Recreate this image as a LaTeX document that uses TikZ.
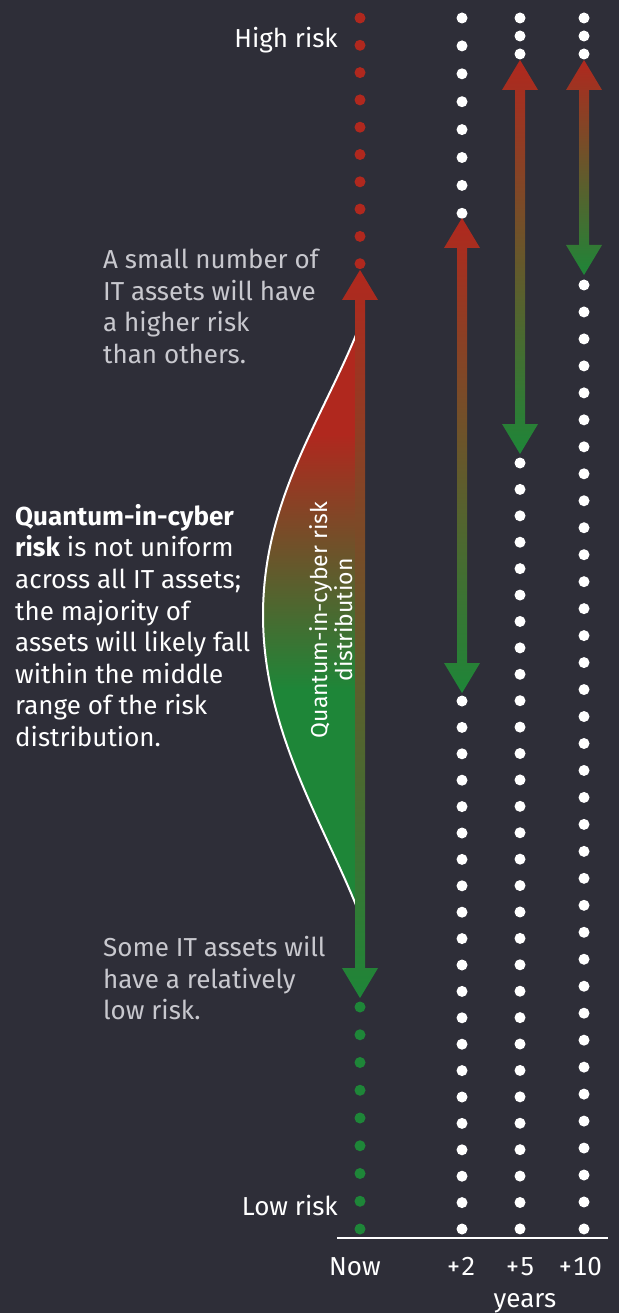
\documentclass[tikz,border=0pt]{standalone}
\usepackage{fontspec}
\setmainfont{Fira Sans}[Numbers={Lining,Monospaced}]
\usetikzlibrary{calc}
\definecolor{bgdark}{RGB}{46,46,56}
\definecolor{riskred}{RGB}{176,40,30}
\definecolor{riskgreen}{RGB}{30,134,56}
\definecolor{notegray}{RGB}{200,200,206}
\pgfdeclareverticalshading{bellshade}{100bp}{color(0bp)=(riskgreen); color(44bp)=(riskgreen);
  color(55bp)=(riskred!50!riskgreen); color(66bp)=(riskred); color(100bp)=(riskred)}

\newcommand{\dotcol}[5]{%
  \foreach \i in {0,...,#4} \fill[#5] (#1,{#2+\i*#3}) circle (5.5pt);}
\newcommand{\riskarrow}[2]{%
  \shade[top color=riskred, bottom color=riskgreen]
    ($(#1)+(-5,30)$) -- ($(#1)+(-18,30)$) -- (#1) -- ($(#1)+(18,30)$) -- ($(#1)+(5,30)$)
    -- ($(#2)+(5,-30)$) -- ($(#2)+(18,-30)$) -- (#2) -- ($(#2)+(-18,-30)$)
    -- ($(#2)+(-5,-30)$) -- cycle;}

\begin{document}
\begin{tikzpicture}[x=1pt, y=-1pt,
    label/.style={inner sep=0pt, text=white, font=\fontsize{26}{31.6}\selectfont},
    note/.style={label, align=left, anchor=north west},
    grey note/.style={note, text=notegray},
    axis tick/.style={label, anchor=base}]
        \fill[bgdark] (0,0) rectangle (619,1313);
        \useasboundingbox (0,0) rectangle (619,1313);
        \dotcol{360}{18}{27.3}{9}{riskred}
        \dotcol{360}{1007}{27.75}{8}{riskgreen}
        \dotcol{462}{18}{27.9}{7}{white}
        \dotcol{462}{701}{26.4}{20}{white}
        \dotcol{520}{18}{18}{2}{white}
        \dotcol{520}{463}{26.41}{29}{white}
        \dotcol{584}{18}{18}{2}{white}
        \dotcol{584}{285}{26.97}{35}{white}
        \shade[shading=bellshade]
            (358,330) .. controls (322,420) and (263,500) .. (263,615)
            .. controls (263,730) and (322,820) .. (358,910) -- cycle;
        \draw[white, line width=2pt] (358,330) .. controls (322,420) and (263,500) .. (263,615)
            .. controls (263,730) and (322,820) .. (358,910);
        \coordinate (nowtop) at (360,270);
        \coordinate (nowbot) at (360,998);
        \coordinate (twotop) at (462,218);
        \coordinate (twobot) at (462,693);
        \coordinate (fivetop) at (520,60);
        \coordinate (fivebot) at (520,454);
        \coordinate (tentop) at (584,60);
        \coordinate (tenbot) at (584,275);
        \riskarrow{nowtop}{nowbot}
        \riskarrow{twotop}{twobot}
        \riskarrow{fivetop}{fivebot}
        \riskarrow{tentop}{tenbot}
        \node [label, align=center, rotate=90, font=\fontsize{23}{25.5}\selectfont] (dist) at (331,620)
            {Quantum-in-cyber risk\\distribution};
        \node [label, anchor=base east] (high) at (338,48) {High risk};
        \node [label, anchor=base east] (low) at (338,1215) {Low risk};
        \node [grey note] (fewhigh) at (103,249) {A small number of\\IT assets will have\\a higher risk\\than others.};
        \node [note] (summary) at (15,504) {\textbf{Quantum-in-cyber}\\\textbf{risk} is not uniform\\across all IT assets;\\the majority of\\assets will likely fall\\within the middle\\range of the risk\\distribution.};
        \node [grey note] (fewlow) at (103,936) {Some IT assets will\\have a relatively\\low risk.};
        \draw [white, line width=1.5pt] (337,1238) -- (608,1238);
        \node [axis tick] (now) at (355,1275) {Now};
        \node [axis tick] (two) at (461,1275) {+2};
        \node [axis tick] (five) at (520,1275) {+5};
        \node [axis tick] (ten) at (580,1275) {+10};
        \node [axis tick] (years) at (525,1307) {years};
    \end{tikzpicture}
\end{document}
